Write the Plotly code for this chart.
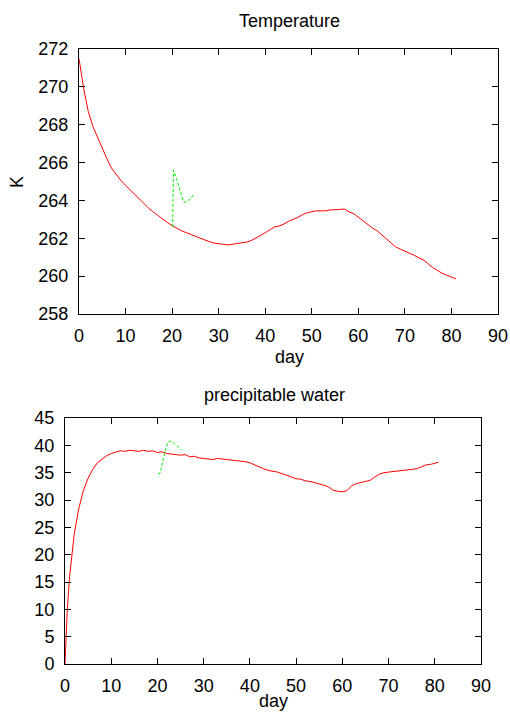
import plotly.graph_objects as go

# ---- Temperature panel data ----
temp_days = [0, 0.5, 1, 1.5, 2, 3, 4, 5, 6, 7, 8, 9, 10, 11, 12, 13, 14, 15, 16, 17, 18, 19, 20,
             21, 22, 23, 24, 25, 26, 27, 28, 29, 30, 31, 32, 33, 34, 35, 36, 37, 38, 39, 40,
             41, 42, 43, 44, 45, 46, 47, 48, 49, 50, 51, 52, 53, 54, 55, 56, 57, 58, 59, 60,
             61, 62, 63, 64, 65, 66, 67, 68, 69, 70, 71, 72, 73, 74, 75, 76, 77, 78, 79, 80, 81]
temp_red = [271.5, 270.6, 269.9, 269.3, 268.7, 267.9, 267.3, 266.75, 266.2, 265.7, 265.35, 265.05,
            264.8, 264.55, 264.3, 264.05, 263.8, 263.58, 263.38, 263.18, 263.0, 262.83, 262.67,
            262.52, 262.4, 262.3, 262.2, 262.1, 262.0, 261.9, 261.82, 261.75, 261.7, 261.68, 261.65,
            261.68, 261.7, 261.75, 261.8, 261.88, 262.0, 262.15, 262.3, 262.45, 262.6, 262.65,
            262.75, 262.9, 263.0, 263.1, 263.25, 263.35, 263.4, 263.45, 263.45, 263.45, 263.5,
            263.5, 263.52, 263.55, 263.4, 263.3, 263.1, 262.9, 262.7, 262.55, 262.4, 262.2,
            261.95, 261.75, 261.55, 261.43, 261.33, 261.22, 261.1, 260.97, 260.85, 260.65,
            260.45, 260.3, 260.15, 260.05, 259.95, 259.85]
temp_green_days = [20.1, 20.3, 21.0, 21.8, 22.5, 23.2, 24.0, 24.9]
temp_green = [262.6, 265.6, 265.1, 264.4, 263.9, 263.95, 264.1, 264.4]

# ---- Precipitable water panel data ----
pw_days = [0, 0.2, 0.5, 1, 1.5, 2, 3, 4, 5, 6, 7, 8, 9, 10, 11, 12, 13, 14, 15, 16, 17, 18, 19, 20,
           21, 22, 23, 24, 25, 26, 27, 28, 29, 30, 31, 32, 33, 34, 35, 36, 37, 38, 39, 40,
           41, 42, 43, 44, 45, 46, 47, 48, 49, 50, 51, 52, 53, 54, 55, 56, 57, 58, 59, 60,
           61, 62, 63, 64, 65, 66, 67, 68, 69, 70, 71, 72, 73, 74, 75, 76, 77, 78, 79, 80, 80.8]
pw_red = [0, 5, 10, 16, 20.5, 23.8, 28.5, 31.8, 34.0, 35.6, 36.8, 37.5, 38.1, 38.5, 38.8, 39.0,
          38.9, 39.1, 39.0, 38.9, 39.1, 38.9, 39.0, 38.7, 38.8, 38.5, 38.4, 38.3, 38.2, 38.3,
          37.9, 38.0, 37.7, 37.6, 37.5, 37.4, 37.6, 37.5, 37.5, 37.4, 37.3, 37.2, 37.0, 36.8,
          36.4, 36.0, 35.7, 35.4, 35.3, 35.1, 34.8, 34.5, 34.2, 33.9, 33.8, 33.5, 33.4, 33.2,
          33.0, 32.7, 32.4, 31.8, 31.6, 31.5, 31.7, 32.6, 33.0, 33.2, 33.4, 33.6, 34.2, 34.7,
          35.0, 35.1, 35.2, 35.2, 35.3, 35.4, 35.6, 35.7, 36.0, 36.4, 36.5, 36.7, 36.9]
pw_green_days = [20.1, 20.6, 21.4, 22.2, 22.7, 23.5, 24.5, 25.2]
pw_green = [34.8, 34.9, 38.0, 40.5, 40.8, 40.4, 39.7, 39.2]

x_ticks = [0, 10, 20, 30, 40, 50, 60, 70, 80, 90]
temp_ticks = [258, 260, 262, 264, 266, 268, 270, 272]
pw_ticks = [0, 5, 10, 15, 20, 25, 30, 35, 40, 45]

W, H = 510, 713
FONT = "Liberation Sans, Arial, sans-serif"
FS = 18

def px(v):
    return v / W

def py(v):
    return 1 - v / H

fig = go.Figure()
fig.add_trace(go.Scatter(x=temp_days, y=temp_red, mode="lines",
                         line=dict(color="#ff0000", width=1), xaxis="x", yaxis="y"))
fig.add_trace(go.Scatter(x=temp_green_days, y=temp_green, mode="lines",
                         line=dict(color="#00ee00", width=1, dash="3px,2px"), xaxis="x", yaxis="y"))
fig.add_trace(go.Scatter(x=pw_days, y=pw_red, mode="lines",
                         line=dict(color="#ff0000", width=1), xaxis="x2", yaxis="y2"))
fig.add_trace(go.Scatter(x=pw_green_days, y=pw_green, mode="lines",
                         line=dict(color="#00ee00", width=1, dash="3px,2px"), xaxis="x2", yaxis="y2"))

axis_common = dict(showline=True, linecolor="black", linewidth=1, mirror="allticks",
                   ticks="inside", ticklen=6, tickcolor="black", showgrid=False, zeroline=False,
                   automargin=False,
                   tickfont=dict(family=FONT, size=FS, color="black"))

fig.update_layout(
    width=W, height=H,
    margin=dict(l=0, r=0, t=0, b=0),
    paper_bgcolor="white", plot_bgcolor="white",
    showlegend=False,
    xaxis=dict(domain=[px(79), px(498)], range=[0, 90], tickvals=x_ticks, anchor="y",
               ticklabelstandoff=5, **axis_common),
    yaxis=dict(domain=[py(314), py(49)], range=[258, 272], tickvals=temp_ticks,
               anchor="x", ticklabelstandoff=6, **axis_common),
    xaxis2=dict(domain=[px(65), px(481)], range=[0, 90], tickvals=x_ticks, anchor="y2",
                ticklabelstandoff=5, **axis_common),
    yaxis2=dict(domain=[py(664), py(418)], range=[0, 45], tickvals=pw_ticks,
                anchor="x2", ticklabelstandoff=6, **axis_common),
)

def ann(text, x, y, angle=0, yanchor="middle"):
    fig.add_annotation(text=text, x=px(x), y=py(y), xref="paper", yref="paper",
                       showarrow=False, textangle=angle, xanchor="center", yanchor=yanchor,
                       font=dict(family=FONT, size=FS, color="black"))

ann("Temperature", 289, 21)
ann("K", 17, 182, -90)
ann("day", 289, 357)
ann("precipitable water", 274, 395)
ann("day", 273, 713, yanchor="bottom")

fig.write_html(
    "out.html",
    config={"displayModeBar": False},
    post_script="document.body.style.margin='0';document.body.style.overflow='hidden';",
)
